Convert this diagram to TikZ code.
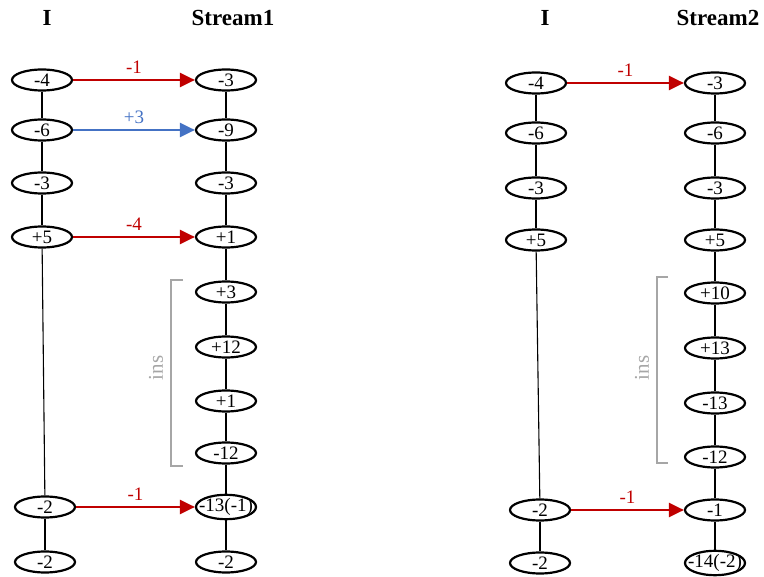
\documentclass[tikz,border=0pt]{standalone}
\usepackage{fontspec}
\setmainfont{Liberation Serif}
\usetikzlibrary{shapes.geometric,arrows.meta}
\definecolor{myred}{HTML}{C00000}
\definecolor{myblue}{HTML}{4472C4}
\definecolor{mygray}{HTML}{A6A6A6}
\tikzset{
  val/.style={ellipse,draw=black,line width=2.2pt,minimum width=60pt,minimum height=21pt,inner sep=0pt,font=\fontsize{19}{19}\selectfont},
  link/.style={draw=black,line width=1.1pt},
  move/.style={line width=2.2pt,-{Triangle[length=15pt,width=14pt]}},
  movelbl/.style={font=\fontsize{19}{19}\selectfont,above,yshift=2pt},
  head/.style={font=\bfseries\fontsize{23}{23}\selectfont},
  brk/.style={draw=mygray,line width=1.6pt},
  inslbl/.style={text=mygray,rotate=90,font=\fontsize{21}{21}\selectfont}
}
\newcommand{\vn}[4]{\node[val] (#1) at (#2,#3) {\makebox[0pt]{#4}};}
\begin{document}
\begin{tikzpicture}[x=1pt,y=-1pt]
\useasboundingbox (0,0) rectangle (764,577);
% headers
\node[head] (hI1) at (47,18) {I};
\node[head] (hS1) at (233,18) {Stream1};
\node[head] (hI2) at (545,18) {I};
\node[head] (hS2) at (718,18) {Stream2};
% left panel, I column
\vn{a1}{42}{80}{-4}
\vn{a2}{42}{130}{-6}
\vn{a3}{42}{183}{-3}
\vn{a4}{42}{237}{+5}
\vn{a5}{45}{507}{-2}
\vn{a6}{45}{562}{-2}
% left panel, Stream1 column
\vn{b1}{226}{80}{-3}
\vn{b2}{226}{130}{-9}
\vn{b3}{226}{183}{-3}
\vn{b4}{226}{237}{+1}
\vn{b5}{226}{292}{+3}
\vn{b6}{226}{347}{+12}
\vn{b7}{226}{401}{+1}
\vn{b8}{226}{453}{-12}
\vn{b9}{226}{507}{-13(-1)}
\vn{b10}{226}{562}{-2}
% right panel, I column
\vn{c1}{536}{83}{-4}
\vn{c2}{536}{133}{-6}
\vn{c3}{536}{188}{-3}
\vn{c4}{536}{240}{+5}
\vn{c5}{540}{510}{-2}
\vn{c6}{540}{563}{-2}
% right panel, Stream2 column
\vn{d1}{715}{83}{-3}
\vn{d2}{715}{133}{-6}
\vn{d3}{715}{188}{-3}
\vn{d4}{715}{240}{+5}
\vn{d5}{715}{293}{+10}
\vn{d6}{715}{348}{+13}
\vn{d7}{715}{403}{-13}
\vn{d8}{715}{457}{-12}
\vn{d9}{715}{510}{-1}
\vn{d10}{715}{563}{-14(-2)}
% vertical links
\foreach \p/\q in {a1/a2,a2/a3,a3/a4,a4/a5,a5/a6,
  b1/b2,b2/b3,b3/b4,b4/b5,b5/b6,b6/b7,b7/b8,b8/b9,b9/b10,
  c1/c2,c2/c3,c3/c4,c4/c5,c5/c6,
  d1/d2,d2/d3,d3/d4,d4/d5,d5/d6,d6/d7,d7/d8,d8/d9,d9/d10}
  \draw[link] (\p) -- (\q);
% moves
\draw[move,myred] (a1) -- node[movelbl] {-1} (b1);
\draw[move,myblue] (a2) -- node[movelbl] {+3} (b2);
\draw[move,myred] (a4) -- node[movelbl] {-4} (b4);
\draw[move,myred] (a5) -- node[movelbl] {-1} (b9);
\draw[move,myred] (c1) -- node[movelbl] {-1} (d1);
\draw[move,myred] (c5) -- node[movelbl] {-1} (d9);
% brackets
\coordinate (k1t) at (171,280);
\coordinate (k1b) at (171,466);
\draw[brk] ([xshift=12pt]k1t) -- (k1t) -- (k1b) -- ([xshift=12pt]k1b);
\node[inslbl] (ins1) at (156,368) {ins};
\coordinate (k2t) at (657,277);
\coordinate (k2b) at (657,463);
\draw[brk] ([xshift=11pt]k2t) -- (k2t) -- (k2b) -- ([xshift=11pt]k2b);
\node[inslbl] (ins2) at (642,368) {ins};
\end{tikzpicture}
\end{document}
